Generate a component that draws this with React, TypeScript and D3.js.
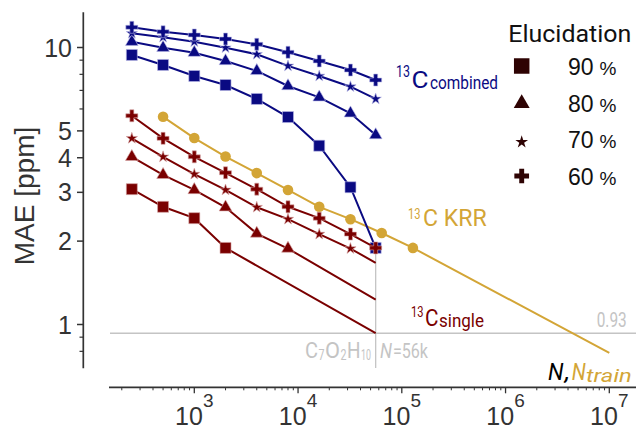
import React from 'react';
import * as d3 from 'd3';

// training set sizes and MAE [ppm]
const nTrain = [250, 500, 1000, 2000, 4000, 8000, 16000, 32000, 56000];
const combined90 = [9.4, 8.65, 7.89, 7.32, 6.52, 5.61, 4.42, 3.13, 1.89];
const combined80 = [10.49, 9.98, 9.58, 8.94, 8.23, 7.26, 6.61, 5.79, 4.83];
const combined70 = [11.25, 10.89, 10.49, 9.98, 9.45, 8.58, 7.89, 7.22, 6.52];
const combined60 = [11.83, 11.4, 11.1, 10.73, 10.27, 9.61, 8.94, 8.29, 7.63];

const single90 = [3.08, 2.66, 2.42, 1.89];
const single80 = [4.03, 3.47, 3.06, 2.65, 2.13, 1.88];
const single70 = [4.7, 4.03, 3.49, 3.06, 2.65, 2.4, 2.12, 1.88];
const single60 = [5.67, 4.7, 4.03, 3.53, 3.08, 2.66, 2.42, 2.12, 1.89];
// extrapolated MAE at N = 56k (lines without markers)
const singleEnd = [0.93, 1.23, 1.67, 1.89];
const nFull = 56000;

const krrN = [500, 1000, 2000, 4000, 8000, 16000, 32000, 64000, 128000];
const krrMae = [5.62, 4.71, 4.04, 3.52, 3.06, 2.66, 2.4, 2.14, 1.89];
const krrEndN = 1e7;
const krrEndMae = 0.79;

const levels = ['90', '80', '70', '60'];
const yTicks = [1, 2, 3, 4, 5, 10];
const yMinor = [0.8, 0.9, 6, 7, 8, 9];
const xTicks = [1e3, 1e4, 1e5, 1e6, 1e7];
const thresholdMae = 0.93;

const NAVY = '#0a0a82';
const MAROON = '#7a0000';
const GOLD = '#d3a536';
const LEGEND = '#2e0303';
const GRAY = '#c4c4c4';
const AXIS = '#333';
const ANN = 'Roboto, sans-serif';
const NUM = '"Liberation Sans", Arial, sans-serif';

const symbols = [d3.symbolSquare, d3.symbolTriangle, d3.symbolStar, d3.symbolCross];
const markSizes = [121, 70, 40, 80];
const legendSizes = [240, 110, 50, 120];

// small helper: a squeezed text piece
const T = ({ x, y, s, w, children, ...rest }: any) => (
  <text x={x} y={y} fontSize={s} textLength={w} lengthAdjust="spacingAndGlyphs" {...rest}>
    {children}
  </text>
);

export default function App() {
  const x = d3.scaleLog().domain([1e3, 1e7]).range([194.3, 609.3]);
  const y = d3.scaleLog().domain([1, 10]).range([324.5, 47.5]);
  const line = d3
    .line<[number, number]>()
    .x(d => x(d[0]))
    .y(d => y(d[1]));

  const combined = [combined90, combined80, combined70, combined60];
  const single = [single90, single80, single70, single60];

  const xMinor: number[] = [];
  for (let p = 2; p <= 6; p++) {
    for (let m = 2; m <= 9; m++) xMinor.push(m * 10 ** p);
  }
  const [xLeft, xRight] = [109, 636];
  const axisY = 387.3;

  const marks = (vals: number[], ns: number[], k: number, color: string, stroke: string) =>
    vals.map((v, i) => (
      <path
        key={i}
        transform={`translate(${x(ns[i])},${y(v)})`}
        d={d3.symbol(symbols[k], markSizes[k])() as string}
        fill={color}
        stroke={stroke}
        strokeWidth={0.6}
      />
    ));

  return (
    <svg width={636} height={429} style={{ position: 'fixed', left: 0, top: 0, background: '#fff' }}>
      {/* reference lines */}
      <line x1={110} x2={636} y1={y(thresholdMae)} y2={y(thresholdMae)} stroke={GRAY} strokeWidth={1.3} />
      <line x1={x(nFull)} x2={x(nFull)} y1={y(1.89)} y2={368} stroke={GRAY} strokeWidth={1.3} />

      {/* KRR */}
      <path
        d={line([...krrN.map((n, i) => [n, krrMae[i]] as [number, number]), [krrEndN, krrEndMae]]) as string}
        fill="none"
        stroke={GOLD}
        strokeWidth={2}
      />
      {krrMae.map((v, i) => (
        <circle key={i} cx={x(krrN[i])} cy={y(v)} r={5.3} fill={GOLD} />
      ))}

      {/* combined */}
      {combined.map((vals, k) => (
        <g key={k}>
          <path
            d={line(vals.map((v, i) => [nTrain[i], v] as [number, number])) as string}
            fill="none"
            stroke={NAVY}
            strokeWidth={2}
          />
          {marks(vals, nTrain, k, NAVY, '#b8b8e8')}
        </g>
      ))}

      {/* single */}
      {single.map((vals, k) => {
        const pts = vals.map((v, i) => [nTrain[i], v] as [number, number]);
        if (vals.length < nTrain.length) pts.push([nFull, singleEnd[k]]);
        return (
          <g key={k}>
            <path d={line(pts) as string} fill="none" stroke={MAROON} strokeWidth={2} />
            {marks(vals, nTrain, k, MAROON, '#d8a8a8')}
          </g>
        );
      })}

      {/* y axis */}
      <line x1={83.3} x2={83.3} y1={y(13.4)} y2={y(0.695)} stroke={AXIS} strokeWidth={1.7} />
      {yTicks.map(t => (
        <g key={t}>
          <line x1={77} x2={83.3} y1={y(t)} y2={y(t)} stroke={AXIS} strokeWidth={1.5} />
          <text x={72} y={y(t)} dy="0.36em" textAnchor="end" fontSize={25} fontFamily={NUM} fill={AXIS}>
            {t}
          </text>
        </g>
      ))}
      {yMinor.map(t => (
        <line key={t} x1={79.5} x2={83.3} y1={y(t)} y2={y(t)} stroke={AXIS} strokeWidth={1.2} />
      ))}
      <text
        transform="translate(33.5,196) rotate(-90)"
        textAnchor="middle"
        fontSize={28}
        fontFamily={NUM}
        fill={AXIS}
      >
        MAE [ppm]
      </text>

      {/* x axis */}
      <line x1={xLeft} x2={xRight} y1={axisY} y2={axisY} stroke={AXIS} strokeWidth={1.7} />
      {xMinor
        .filter(t => x(t) > xLeft && x(t) < xRight)
        .map(t => (
          <line key={t} x1={x(t)} x2={x(t)} y1={axisY} y2={axisY + 3} stroke={AXIS} strokeWidth={1} />
        ))}
      {xTicks.map(t => (
        <g key={t}>
          <line x1={x(t)} x2={x(t)} y1={axisY} y2={axisY + 6} stroke={AXIS} strokeWidth={1.3} />
          <text x={x(t)} y={425} textAnchor="middle" fontSize={25} fontFamily={NUM} fill={AXIS}>
            <tspan>10</tspan>
            <tspan dy={-18} fontSize={19}>
              {Math.round(Math.log10(t))}
            </tspan>
          </text>
        </g>
      ))}

      {/* annotations */}
      <g fontFamily={ANN} fill={NAVY}>
        <T x={396} y={76.5} s={16} w={14}>13</T>
        <T x={411.5} y={88} s={24} w={17}>C</T>
        <T x={430} y={89} s={18} w={68}>combined</T>
      </g>
      <g fontFamily={ANN} fill={GOLD}>
        <T x={408} y={219} s={15} w={12.5}>13</T>
        <T x={423} y={225.7} s={23} w={63.7}>C KRR</T>
      </g>
      <g fontFamily={ANN} fill={MAROON}>
        <T x={411} y={317} s={15} w={12.5}>13</T>
        <T x={425} y={326} s={23} w={13.5}>C</T>
        <T x={439} y={326.5} s={18} w={45}>single</T>
      </g>
      <g fontFamily={ANN} fill={GRAY}>
        <T x={305} y={358} s={22} w={13}>C</T>
        <T x={318.6} y={360} s={14} w={6}>7</T>
        <T x={325} y={358} s={22} w={15}>O</T>
        <T x={340.4} y={360} s={14} w={6}>2</T>
        <T x={347} y={358} s={22} w={13.5}>H</T>
        <T x={361} y={360} s={14} w={10}>10</T>
        <T x={380} y={357.5} s={21} w={12} fontStyle="italic">N</T>
        <T x={393} y={357.5} s={21} w={35}>=56k</T>
        <T x={596.7} y={327} s={21} w={30}>{thresholdMae}</T>
      </g>
      <g fontFamily={ANN} fontStyle="italic">
        <T x={548} y={380} s={24} w={15.5} fill="#000">N</T>
        <T x={565} y={380} s={24} w={5} fill="#000">,</T>
        <T x={571.7} y={380} s={24} w={14} fill={GOLD}>N</T>
        <T x={586} y={381.7} s={18} w={45.7} fill={GOLD}>train</T>
      </g>

      {/* legend */}
      <T x={508.3} y={41.7} s={23.5} w={123} fontFamily={ANN} fill="#111">Elucidation</T>
      {levels.map((lv, k) => {
        const cy = [66, 103.5, 142, 176][k];
        const base = [75, 111.7, 148.3, 185][k];
        return (
          <g key={lv}>
            <path
              transform={`translate(521.7,${cy})`}
              d={d3.symbol(symbols[k], legendSizes[k])() as string}
              fill={LEGEND}
            />
            <text x={568} y={base} fontSize={23} fontFamily={NUM} fill="#111">
              {lv}
              <tspan dx={6} fontSize={19}>%</tspan>
            </text>
          </g>
        );
      })}
    </svg>
  );
}
